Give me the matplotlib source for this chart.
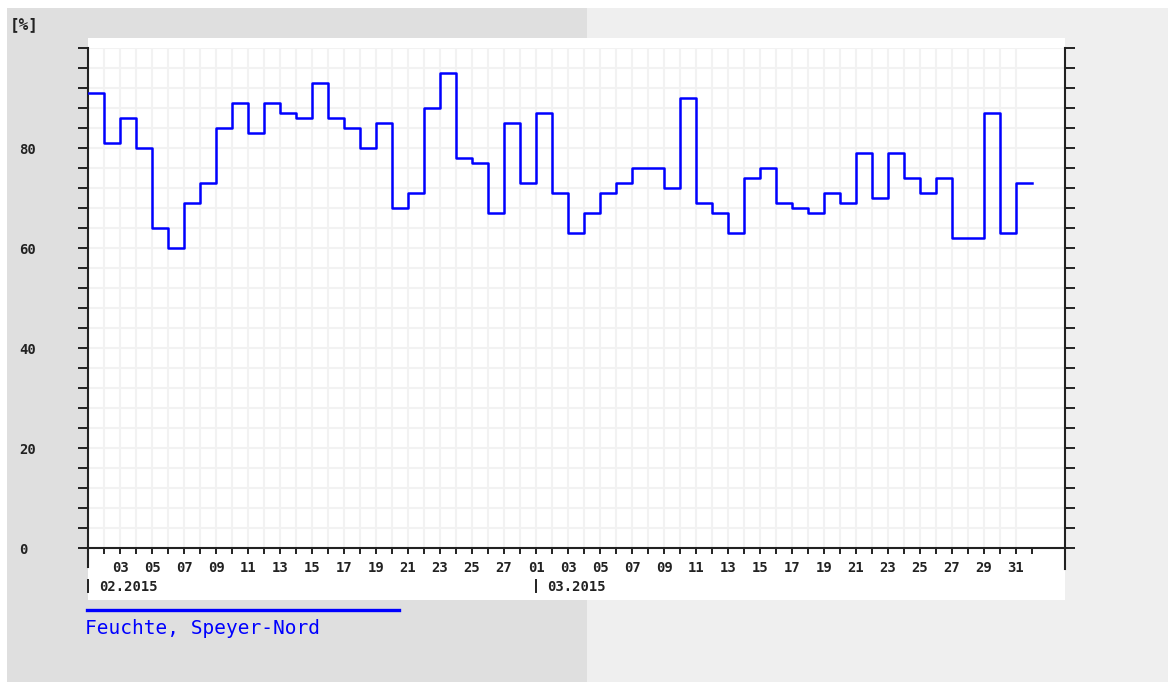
import matplotlib
matplotlib.use("Agg")
import matplotlib.pyplot as plt
import matplotlib.dates as mdates
import matplotlib.transforms as mtrans
from matplotlib.patches import Rectangle
from matplotlib.lines import Line2D
import numpy as np
import pandas as pd

# ---------------- data ----------------
start_date = "2015-02-01"
humidity = [91, 81, 86, 80, 64, 60, 69, 73, 84, 89,
            83, 89, 87, 86, 93, 86, 84, 80, 85, 68,
            71, 88, 95, 78, 77, 67, 85, 73,
            87, 71, 63, 67, 71, 73, 76, 76, 72, 90,
            69, 67, 63, 74, 76, 69, 68, 67, 71, 69,
            79, 70, 79, 74, 71, 74, 62, 62, 87, 63, 73]
series_label = "Feuchte, Speyer-Nord"
unit_label = "[%]"
month_starts = ["2015-02-01", "2015-03-01"]
month_labels = ["02.2015", "03.2015"]
y_label_values = [0, 20, 40, 60, 80]
y_minor_values = list(range(0, 101, 4))

# ---------------- figure ----------------
W, H = 1171, 682
fig = plt.figure(figsize=(W / 100, H / 100), dpi=100, facecolor="white")

def fx(px):
    return px / W

def fy(py):
    return 1 - py / H

# background panels
fig.add_artist(Rectangle((fx(7), 0), fx(587) - fx(7), fy(8), transform=fig.transFigure,
                         facecolor="#dfdfdf", edgecolor="none", zorder=-10))
fig.add_artist(Rectangle((fx(587), 0), fx(1168) - fx(587), fy(8), transform=fig.transFigure,
                         facecolor="#efefef", edgecolor="none", zorder=-10))
fig.add_artist(Rectangle((fx(88), fy(600)), fx(1065) - fx(88), fy(38) - fy(600),
                         transform=fig.transFigure, facecolor="white", edgecolor="none", zorder=-9))

ax = fig.add_axes([fx(88), fy(548), fx(1065) - fx(88), fy(48) - fy(548)])
ax.set_facecolor("none")

dates = pd.date_range(start_date, periods=len(humidity), freq="D")
x = mdates.date2num(dates)
day_w = x[1] - x[0]
xs = np.append(x, x[-1] + day_w)
ys = np.append(humidity, humidity[-1])

ax.set_xlim(x[0], x[0] + 61.06 * day_w)
ax.set_ylim(0, 100)

# grid
grid_c = "#f2f2f2"
for gx in x[1:]:
    ax.axvline(gx, color=grid_c, lw=1.5, zorder=0)
for gy in y_minor_values[1:]:
    ax.axhline(gy, color=grid_c, lw=1.5, zorder=0)

ax.step(xs, ys, where="post", color="#0000ff", lw=1.8, zorder=3)

# spines
axc = "#222222"
ax.spines["top"].set_visible(False)
for s in ("left", "right", "bottom"):
    ax.spines[s].set_color(axc)
    ax.spines[s].set_linewidth(1.5)
ax.spines["left"].set_bounds(-3.8, 100)
ax.spines["right"].set_bounds(-4.2, 100)

# x ticks
ax.set_xticks(x[2::2])
ax.set_xticklabels([d.strftime("%d") for d in dates[2::2]])
ax.set_xticks(xs[1:], minor=True)
ax.tick_params(axis="x", which="both", direction="out", length=4, width=1.4, color=axc)
ax.tick_params(axis="x", which="major", pad=5, labelsize=10, labelcolor=axc)
for lab in ax.get_xticklabels():
    lab.set_fontfamily("DejaVu Sans Mono")
    lab.set_fontweight("bold")

# y ticks
ax.set_yticks(y_label_values)
ax.set_yticklabels([str(v) for v in y_label_values])
ax.set_yticks(y_minor_values, minor=True)
ax.tick_params(axis="y", which="both", direction="out", length=7.5, width=1.4, color=axc,
               left=True, right=True, labelleft=True, labelright=False)
ax.tick_params(axis="y", which="major", pad=42, labelsize=10, labelcolor=axc)
for lab in ax.get_yticklabels():
    lab.set_fontfamily("DejaVu Sans Mono")
    lab.set_fontweight("bold")
    lab.set_horizontalalignment("left")

# month markers
blend = mtrans.blended_transform_factory(ax.transData, ax.transAxes)
for ms, ml in zip(month_starts, month_labels):
    mx = mdates.date2num(pd.Timestamp(ms))
    ax.plot([mx, mx], [-0.064, -0.088], transform=blend, color=axc, lw=1.4, clip_on=False)
    ax.text(mx + 0.7 * day_w, -0.078, ml, transform=blend, ha="left", va="center",
            fontsize=10, fontweight="bold", fontfamily="DejaVu Sans Mono", color=axc)

# unit label
fig.text(fx(10), fy(25), unit_label, ha="left", va="center", fontsize=11.5,
         fontweight="bold", fontfamily="DejaVu Sans Mono", color=axc)

# legend
fig.add_artist(Line2D([fx(87), fx(399)], [fy(610), fy(610)], transform=fig.transFigure,
                      color="#0000ff", lw=2.4))
fig.text(fx(85), fy(629), series_label, ha="left", va="center", fontsize=14,
         fontfamily="DejaVu Sans Mono", color="#0000ff")

fig.savefig("out.png", dpi=100, facecolor="white")
